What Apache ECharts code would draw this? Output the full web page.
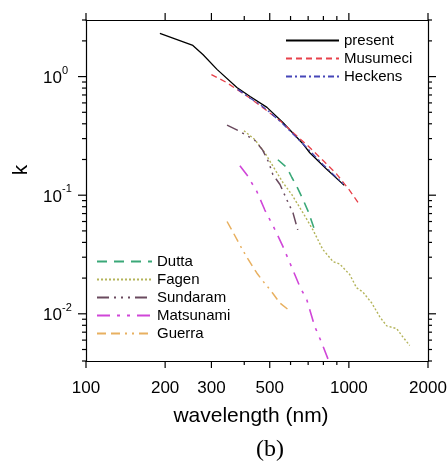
<!DOCTYPE html>
<html>
<head>
<meta charset="utf-8">
<script src="https://cdn.jsdelivr.net/npm/echarts@6/dist/echarts.min.js"></script>
<style>
  html, body { margin: 0; padding: 0; background: #fff; }
  #chart { width: 448px; height: 462px; }
</style>
</head>
<body>
<div id="chart"></div>
<script>
// axis ranges and ticks
const lambdaMin = 100, lambdaMax = 2000;
const kMin = 0.004, kMax = 3;
const xMajor = [100, 200, 300, 500, 1000, 2000];
const xMinor = [400, 600, 700, 800, 900];
const yMajor = [1, 0.1, 0.01];
const yMajorExp = ['0', '-1', '-2'];
const yMinor = [0.004, 0.005, 0.006, 0.007, 0.008, 0.009,
    0.02, 0.03, 0.04, 0.05, 0.06, 0.07, 0.08, 0.09,
    0.2, 0.3, 0.4, 0.5, 0.6, 0.7, 0.8, 0.9, 2, 3];

// [wavelength nm, k]
const present = [[191, 2.31], [222, 2.05], [255, 1.83], [279, 1.53], [315, 1.15], [375, 0.81],
    [421, 0.68], [488, 0.55], [561, 0.41], [663, 0.277], [710, 0.228], [820, 0.167], [960, 0.121]];
const musumeci = [[300, 1.04], [340, 0.9], [375, 0.78], [420, 0.66], [480, 0.53], [550, 0.42],
    [620, 0.33], [700, 0.26], [800, 0.195], [900, 0.15], [1000, 0.112], [1100, 0.083]];
const heckens = [[378, 0.78], [420, 0.66], [460, 0.58], [500, 0.5], [560, 0.4], [620, 0.32],
    [700, 0.245], [800, 0.18], [950, 0.125]];
const dutta = [[537, 0.199], [581, 0.171], [607, 0.141], [639, 0.114], [669, 0.092], [700, 0.073],
    [722, 0.06], [750, 0.047]];
const fagen = [[399, 0.35], [439, 0.294], [479, 0.228], [524, 0.164], [561, 0.128], [607, 0.101],
    [669, 0.071], [730, 0.051], [795, 0.035], [871, 0.0275], [923, 0.0263], [1008, 0.0214],
    [1069, 0.0166], [1129, 0.0153], [1223, 0.0123], [1312, 0.0094], [1394, 0.0079], [1520, 0.0075],
    [1603, 0.0064], [1704, 0.0054]];
const sundaram = [[344, 0.39], [385, 0.345], [439, 0.29], [470, 0.24], [495, 0.19], [514, 0.149],
    [547, 0.123], [580, 0.092], [613, 0.071], [639, 0.051]];
const matsunami = [[385, 0.177], [409, 0.149], [447, 0.107], [479, 0.075], [524, 0.051], [561, 0.037],
    [607, 0.0245], [652, 0.0168], [692, 0.0131], [742, 0.0078], [788, 0.0057], [835, 0.0041]];
const guerra = [[344, 0.06], [362, 0.049], [385, 0.038], [409, 0.03], [447, 0.022], [470, 0.019],
    [509, 0.0153], [547, 0.0123], [596, 0.0106]];

const font = 'Liberation Sans, Arial, sans-serif';
const chart = echarts.init(document.getElementById('chart'));

function lineSeries(name, data, color, dash, width) {
    return {
        name: name,
        type: 'line',
        data: data,
        symbol: 'none',
        silent: true,
        lineStyle: { color: color, width: width || 1.4, type: dash },
        itemStyle: { color: color }
    };
}

function tick(x1, y1, x2, y2) {
    return { type: 'line', shape: { x1: x1, y1: y1, x2: x2, y2: y2 }, style: { stroke: '#000', lineWidth: 1.2 } };
}

function renderXTick(params, api) {
    const v = api.value(0);
    const major = api.value(2) === 1;
    const b = api.coord([v, kMin]);
    const t = api.coord([v, kMax]);
    const len = major ? 7 : 4;
    const children = [tick(b[0], b[1], b[0], b[1] + len), tick(t[0], t[1], t[0], t[1] - len)];
    if (major) {
        children.push({
            type: 'text', x: b[0], y: b[1] + 27,
            style: { text: String(v), fill: '#000', fontSize: 17, fontFamily: font, align: 'center', verticalAlign: 'middle' }
        });
    }
    return { type: 'group', children: children };
}

function renderYTick(params, api) {
    const v = api.value(1);
    const idx = api.value(2);
    const major = idx >= 0;
    const l = api.coord([lambdaMin, v]);
    const r = api.coord([lambdaMax, v]);
    const len = major ? 8 : 4;
    const children = [tick(l[0], l[1], l[0] - len, l[1]), tick(r[0], r[1], r[0] + len, r[1])];
    if (major) {
        children.push({
            type: 'text', x: l[0] - 24, y: l[1] + 2,
            style: { text: '10', fill: '#000', fontSize: 17, fontFamily: font, align: 'right', verticalAlign: 'middle' }
        });
        children.push({
            type: 'text', x: l[0] - 24, y: l[1] - 6,
            style: { text: yMajorExp[idx], fill: '#000', fontSize: 11, fontFamily: font, align: 'left', verticalAlign: 'middle' }
        });
    }
    return { type: 'group', children: children };
}

const xTickData = xMajor.map(v => [v, kMin, 1]).concat(xMinor.map(v => [v, kMin, 0]));
const yTickData = yMajor.map((v, i) => [lambdaMin, v, i]).concat(yMinor.map(v => [lambdaMin, v, -1]));

const axisCommon = {
    type: 'log',
    logBase: 10,
    axisLine: { show: true, lineStyle: { color: '#000', width: 1.2 } },
    axisTick: { show: false },
    axisLabel: { show: false },
    splitLine: { show: false }
};

const legendCommon = {
    orient: 'vertical', padding: 0,
    itemHeight: 14, itemGap: 3,
    itemStyle: { opacity: 0 },
    textStyle: { fontSize: 15, fontFamily: font, color: '#000' }
};

const option = {
    animation: false,
    backgroundColor: '#fff',
    grid: { left: 86, right: 20, top: 20, bottom: 101 },
    xAxis: [
        Object.assign({ min: lambdaMin, max: lambdaMax, position: 'bottom' }, axisCommon),
        Object.assign({ min: lambdaMin, max: lambdaMax, position: 'top' }, axisCommon)
    ],
    yAxis: [
        Object.assign({ min: kMin, max: kMax, position: 'left' }, axisCommon),
        Object.assign({ min: kMin, max: kMax, position: 'right' }, axisCommon)
    ],
    legend: [
        Object.assign({
            data: ['present', 'Musumeci', 'Heckens'],
            left: 285, top: 33, itemWidth: 53
        }, legendCommon),
        Object.assign({
            data: ['Dutta', 'Fagen', 'Sundaram', 'Matsunami', 'Guerra'],
            left: 96, top: 254, itemWidth: 55
        }, legendCommon)
    ],
    graphic: [
        { type: 'text', x: 251, y: 416, style: { text: 'wavelength (nm)', fill: '#000', fontSize: 21, fontFamily: font, align: 'center', verticalAlign: 'middle' } },
        { type: 'text', x: 21, y: 170, rotation: Math.PI / 2, style: { text: 'k', fill: '#000', fontSize: 21, fontFamily: font, align: 'center', verticalAlign: 'middle' } },
        { type: 'text', x: 270, y: 450, style: { text: '(b)', fill: '#000', fontSize: 24, fontFamily: 'Liberation Serif, Times New Roman, serif', align: 'center', verticalAlign: 'middle' } }
    ],
    series: [
        lineSeries('present', present, '#000000', 'solid', 1.3),
        lineSeries('Musumeci', musumeci, '#e8414a', [6, 4], 1.3),
        lineSeries('Heckens', heckens, '#4646b8', [6, 3, 2, 3], 1.3),
        lineSeries('Dutta', dutta, '#3aa878', [10, 7], 1.6),
        lineSeries('Fagen', fagen, '#b4b45a', [2, 2], 1.4),
        lineSeries('Sundaram', sundaram, '#6a4a5e', [12, 5, 2, 5, 2, 5, 2, 5], 1.5),
        lineSeries('Matsunami', matsunami, '#d046d8', [13, 7, 3, 7, 3, 7], 1.6),
        lineSeries('Guerra', guerra, '#e8b060', [9, 5, 9, 5, 2, 5, 2, 5], 1.5),
        { type: 'custom', name: 'xticks', silent: true, clip: false, data: xTickData, encode: { x: 0, y: 1 }, renderItem: renderXTick },
        { type: 'custom', name: 'yticks', silent: true, clip: false, data: yTickData, encode: { x: 0, y: 1 }, renderItem: renderYTick }
    ]
};

option && chart.setOption(option);
</script>
</body>
</html>
